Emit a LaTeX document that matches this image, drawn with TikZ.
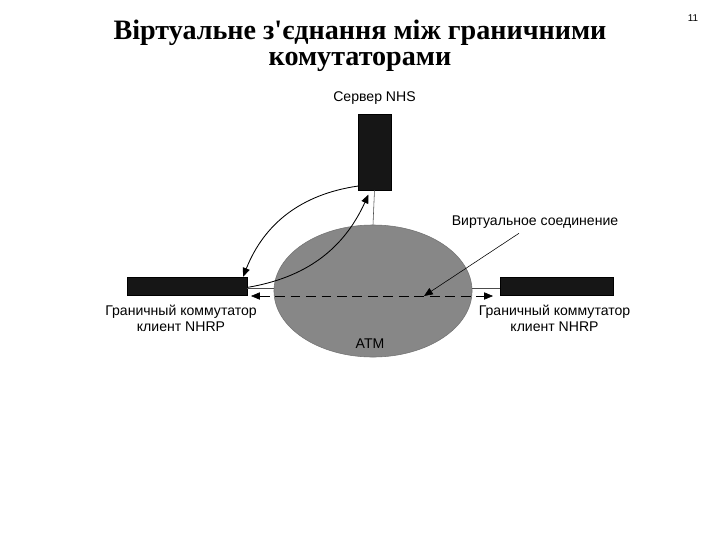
\documentclass[tikz,border=0pt]{standalone}
\usepackage{fontspec}
\setmainfont{Liberation Serif}
\setsansfont{Liberation Sans}
\usetikzlibrary{shapes.geometric,arrows.meta,positioning,calc}
\definecolor{BoxBlack}{RGB}{22,22,22}
\definecolor{NetGray}{RGB}{135,135,135}

\begin{document}
\begin{tikzpicture}[
  x=0.025cm, y=-0.025cm,
  swbox/.style={
    rectangle, draw=black, fill=BoxBlack, inner sep=0pt,
    minimum width=3.0cm, minimum height=0.45cm
  },
  srvbox/.style={
    rectangle, draw=black, fill=BoxBlack, inner sep=0pt,
    minimum width=0.82cm, minimum height=1.9cm
  },
  netcloud/.style={
    ellipse, draw=black!55, fill=NetGray, inner sep=0pt,
    minimum width=4.95cm, minimum height=3.3cm
  },
  link/.style={thin, black!70},
  arr/.style={-{Triangle[length=2.2mm, width=1.8mm]}, semithick},
  vc/.style={{Triangle[length=2.2mm, width=1.8mm]}-{Triangle[length=2.2mm, width=1.8mm]}, thin, dash pattern=on 7pt off 4pt},
  label/.style={font=\sffamily\fontsize{10}{11.5}\selectfont, align=center},
  heading/.style={font=\bfseries\fontsize{20}{18.5}\selectfont, align=center}
]
\useasboundingbox[fill=white] (0,0) rectangle (720,540);

% --- Title and slide number
\node[heading] (title) at (360,46) {Віртуальне з\textquotesingle єднання між граничними\\комутаторами};
\node[font=\sffamily\fontsize{7}{8}\selectfont] (pageno) at (693,18) {11};

% --- Network and server
\node[netcloud] (atm) at (373,291) {};
\node[srvbox] (server) at (374.5,152) {};
\node[label, above=0.12cm of server] (srvlabel) {Сервер NHS};
\node[label, anchor=south] (atmlabel) at (370,353) {ATM};

% --- Edge switches
\node[swbox] (swleft) at (187,286) {};
\node[swbox, minimum width=2.83cm] (swright) at (556.5,286) {};
\node[label, below=0.12cm of swleft, xshift=-0.15cm] (leftlabel) {Граничный коммутатор\\клиент NHRP};
\node[label, below=0.12cm of swright, xshift=-0.05cm] (rightlabel) {Граничный коммутатор\\клиент NHRP};

% --- Physical links
\draw[link] (server.south) -- (atm.north);
\draw[link] ([yshift=-1.5pt]swleft.east) -- ([yshift=-1.5pt]swleft.east -| atm.west);
\draw[link] ([yshift=-1.5pt]swright.west) -- ([yshift=-1.5pt]swright.west -| atm.east);

% --- Virtual connection
\coordinate (vcleft) at (251,296);
\coordinate (vcright) at (493,296);
\draw[vc] (vcleft) -- (vcright);
\node[label] (vclabel) at (535,222) {Виртуальное соединение};
\coordinate (vcpoint) at (424,296);
\draw[arr, thin] ([xshift=-0.4cm]vclabel.south) -- (vcpoint);

% --- NHRP request / reply
\draw[arr] ([yshift=3pt]server.south west) to[bend right=30] ([xshift=-3pt]swleft.north east);
\draw[arr] ([yshift=-1pt]swleft.east) to[bend right=28] ([xshift=-0.15cm,yshift=-3pt]server.south);

\end{tikzpicture}
\end{document}
